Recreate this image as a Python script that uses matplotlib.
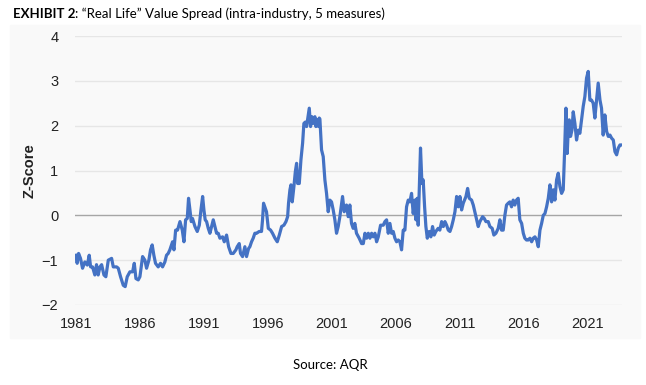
import matplotlib
matplotlib.use("Agg")
import matplotlib.pyplot as plt
from matplotlib.patches import Rectangle

# Value spread z-score
years = [
    1981.00, 1981.10, 1981.21, 1981.36, 1981.52, 1981.70, 1981.89, 1982.04, 1982.15, 1982.30,
    1982.48, 1982.61, 1982.74, 1982.88, 1983.01, 1983.19, 1983.34, 1983.53, 1983.79, 1983.92,
    1984.18, 1984.31, 1984.49, 1984.70, 1984.85, 1985.01, 1985.22, 1985.43, 1985.56, 1985.69,
    1985.87, 1986.00, 1986.21, 1986.39, 1986.52, 1986.70, 1986.83, 1986.96, 1987.09, 1987.22,
    1987.43, 1987.61, 1987.77, 1987.95, 1988.08, 1988.21, 1988.34, 1988.55, 1988.66, 1988.79,
    1988.94, 1989.13, 1989.31, 1989.44, 1989.57, 1989.70, 1989.80, 1989.91, 1990.01, 1990.11,
    1990.30, 1990.48, 1990.64, 1990.77, 1990.90, 1991.00, 1991.10, 1991.21, 1991.34, 1991.47,
    1991.60, 1991.73, 1991.86, 1991.99, 1992.12, 1992.25, 1992.46, 1992.59, 1992.77, 1992.93,
    1993.11, 1993.29, 1993.50, 1993.60, 1993.76, 1993.86, 1994.02, 1994.20, 1994.33, 1994.49,
    1994.59, 1994.72, 1994.85, 1994.98, 1995.11, 1995.32, 1995.50, 1995.58, 1995.66, 1995.76,
    1995.89, 1996.03, 1996.21, 1996.36, 1996.55, 1996.73, 1996.89, 1997.07, 1997.25, 1997.41,
    1997.54, 1997.61, 1997.72, 1997.80, 1997.90, 1998.03, 1998.14, 1998.24, 1998.32, 1998.45,
    1998.58, 1998.71, 1998.81, 1998.92, 1999.02, 1999.13, 1999.23, 1999.33, 1999.44, 1999.54,
    1999.67, 1999.75, 1999.85, 1999.96, 2000.01, 2000.06, 2000.19, 2000.32, 2000.45, 2000.58,
    2000.71, 2000.84, 2000.97, 2001.10, 2001.23, 2001.36, 2001.49, 2001.62, 2001.83, 2001.96,
    2002.14, 2002.27, 2002.40, 2002.53, 2002.66, 2002.79, 2002.92, 2003.13, 2003.32, 2003.45,
    2003.58, 2003.71, 2003.84, 2003.97, 2004.10, 2004.23, 2004.36, 2004.49, 2004.62, 2004.80,
    2005.01, 2005.14, 2005.27, 2005.40, 2005.53, 2005.66, 2005.79, 2005.92, 2006.05, 2006.18,
    2006.31, 2006.44, 2006.57, 2006.70, 2006.83, 2006.96, 2007.09, 2007.22, 2007.35, 2007.48,
    2007.56, 2007.66, 2007.74, 2007.85, 2007.92, 2008.03, 2008.13, 2008.24, 2008.34, 2008.45,
    2008.60, 2008.73, 2008.86, 2008.99, 2009.12, 2009.30, 2009.43, 2009.57, 2009.70, 2009.83,
    2009.96, 2010.09, 2010.22, 2010.35, 2010.48, 2010.61, 2010.74, 2010.87, 2011.00, 2011.13,
    2011.26, 2011.47, 2011.60, 2011.73, 2011.91, 2012.04, 2012.25, 2012.43, 2012.56, 2012.77,
    2012.90, 2013.03, 2013.21, 2013.34, 2013.52, 2013.65, 2013.81, 2013.99, 2014.12, 2014.25,
    2014.38, 2014.51, 2014.64, 2014.77, 2014.90, 2015.03, 2015.16, 2015.29, 2015.42, 2015.55,
    2015.68, 2015.82, 2015.95, 2016.07, 2016.20, 2016.33, 2016.47, 2016.60, 2016.73, 2016.86,
    2016.99, 2017.12, 2017.25, 2017.38, 2017.51, 2017.64, 2017.77, 2017.90, 2018.03, 2018.16,
    2018.29, 2018.42, 2018.55, 2018.68, 2018.81, 2018.94, 2019.07, 2019.17, 2019.28, 2019.38,
    2019.46, 2019.54, 2019.64, 2019.75, 2019.85, 2019.98, 2020.11, 2020.24, 2020.37, 2020.50,
    2020.63, 2020.76, 2020.89, 2021.02, 2021.15, 2021.28, 2021.41, 2021.54, 2021.67, 2021.80,
    2021.94, 2022.06, 2022.19, 2022.32, 2022.46, 2022.59, 2022.72, 2022.85, 2022.98, 2023.11,
    2023.24, 2023.37, 2023.50, 2023.58,
]
zscore = [
    -0.89, -1.07, -0.85, -0.96, -1.18, -1.04, -1.11, -0.89, -1.15, -1.15,
    -1.33, -1.10, -1.33, -1.15, -1.10, -1.33, -1.37, -1.00, -0.96, -1.15,
    -1.15, -1.18, -1.37, -1.56, -1.59, -1.37, -1.26, -1.26, -1.07, -1.41,
    -1.44, -1.37, -0.92, -1.00, -1.18, -1.00, -0.77, -0.66, -0.89, -1.07,
    -1.15, -1.07, -1.15, -1.04, -0.89, -0.85, -0.77, -0.59, -0.77, -0.33,
    -0.33, -0.14, -0.33, -0.59, -0.10, -0.07, 0.38, 0.12, -0.14, -0.07,
    -0.25, -0.36, -0.22, 0.12, 0.42, 0.12, -0.10, -0.14, -0.29, -0.40,
    -0.25, -0.10, -0.25, -0.40, -0.40, -0.51, -0.48, -0.59, -0.44, -0.70,
    -0.85, -0.85, -0.77, -0.70, -0.63, -0.85, -0.92, -0.70, -0.92, -0.74,
    -0.70, -0.59, -0.51, -0.40, -0.40, -0.36, -0.36, -0.10, 0.27, 0.19,
    0.08, -0.29, -0.33, -0.40, -0.51, -0.59, -0.44, -0.25, -0.22, -0.14,
    -0.03, 0.27, 0.57, 0.68, 0.30, 0.64, 0.97, 1.16, 0.71, 0.71,
    1.24, 1.61, 2.05, 2.08, 1.98, 2.20, 2.39, 1.98, 2.20, 2.05,
    2.20, 1.98, 2.13, 1.98, 2.17, 2.15, 1.46, 1.31, 0.79, 0.49,
    0.08, 0.34, 0.30, 0.12, -0.10, -0.40, -0.25, -0.03, 0.42, 0.08,
    0.23, -0.03, 0.23, -0.18, -0.29, -0.18, -0.40, -0.51, -0.63, -0.63,
    -0.40, -0.51, -0.40, -0.51, -0.40, -0.48, -0.40, -0.59, -0.48, -0.22,
    -0.22, -0.14, -0.10, -0.40, -0.18, -0.40, -0.36, -0.51, -0.59, -0.55,
    -0.59, -0.77, -0.33, -0.33, 0.19, 0.34, 0.30, 0.49, 0.04, 0.34,
    -0.10, 0.38, -0.22, 0.79, 1.50, 0.71, 0.79, 0.19, -0.25, -0.51,
    -0.36, -0.48, -0.25, -0.44, -0.36, -0.29, -0.33, -0.14, -0.25, -0.14,
    -0.22, -0.33, -0.36, -0.25, -0.10, 0.08, 0.42, 0.19, 0.42, 0.12,
    0.27, 0.42, 0.60, 0.38, 0.34, 0.23, -0.03, -0.25, -0.14, -0.03,
    -0.07, -0.14, -0.14, -0.25, -0.29, -0.44, -0.40, -0.29, -0.10, -0.33,
    -0.33, 0.00, 0.23, 0.27, 0.30, 0.19, 0.34, 0.23, 0.34, 0.38,
    -0.10, -0.18, -0.40, -0.51, -0.55, -0.55, -0.51, -0.59, -0.51, -0.48,
    -0.55, -0.70, -0.33, -0.18, 0.00, 0.04, 0.19, 0.38, 0.68, 0.30,
    0.57, 0.34, 0.79, 0.94, 0.64, 0.49, 0.57, 1.38, 2.39, 1.38,
    1.90, 2.13, 1.76, 1.90, 2.31, 2.05, 1.68, 1.90, 1.83, 2.13,
    2.43, 2.65, 3.06, 3.21, 2.57, 2.57, 2.50, 2.17, 2.57, 2.95,
    2.57, 2.39, 1.79, 2.24, 1.87, 1.76, 1.79, 1.72, 1.68, 1.42,
    1.35, 1.50, 1.57, 1.57,
]
tick_years = [1981, 1986, 1991, 1996, 2001, 2006, 2011, 2016, 2021]
y_ticks = [-2, -1, 0, 1, 2, 3, 4]

fig = plt.figure(figsize=(6.46, 3.85), dpi=100)
W, H = 646, 385

# faint grey panel behind the plot
fig.patches.append(Rectangle((10 / W, 1 - 338 / H), 630 / W, 313 / H,
                             transform=fig.transFigure, color="#f9f9f9", zorder=-5))

ax = fig.add_axes([75 / W, 1 - 305 / H, 547 / W, 269 / H])
ax.set_facecolor("none")
ax.set_zorder(2)

ax.plot(years, zscore, color="#4472C4", lw=2.3, solid_joinstyle="round", zorder=3)

ax.set_xlim(1980.93, 2023.66)
ax.set_ylim(-2, 4)
ax.set_yticks(y_ticks)
ax.set_xticks(tick_years)
ax.set_xticklabels([str(y) for y in tick_years])
for y in y_ticks:
    if y == 0:
        ax.axhline(y, color="#a6a6a6", lw=1.0, zorder=2)
    else:
        ax.axhline(y, color="#e6e6e6", lw=1.0, zorder=1)

for s in ax.spines.values():
    s.set_visible(False)
ax.tick_params(length=0, labelsize=10.5, colors="#222222")
ax.tick_params(axis="x", pad=9)
ax.tick_params(axis="y", pad=12)
for lab in ax.get_xticklabels() + ax.get_yticklabels():
    lab.set_fontfamily("Liberation Sans")

ax.set_ylabel("Z-Score", fontsize=10.5, fontweight="bold", family="Liberation Sans",
              color="#222222")
ax.yaxis.set_label_coords((37 - 75) / 547, 0.5)

# title: bold prefix followed by regular text
t1 = fig.text(13 / W, 1 - 14 / H, "EXHIBIT 2", fontsize=9.5, fontweight="bold",
              family="Lato", va="center", ha="left")
fig.canvas.draw()
bb = t1.get_window_extent()
fig.text(bb.x1 / W, 1 - 14 / H, ": \u201cReal Life\u201d Value Spread (intra-industry, 5 measures)",
         fontsize=9.5, family="Lato", va="center", ha="left")

fig.text(330 / W, 1 - 365 / H, "Source: AQR", fontsize=9.5, family="Lato",
         ha="center", va="center")

fig.savefig("out.png", dpi=100)
